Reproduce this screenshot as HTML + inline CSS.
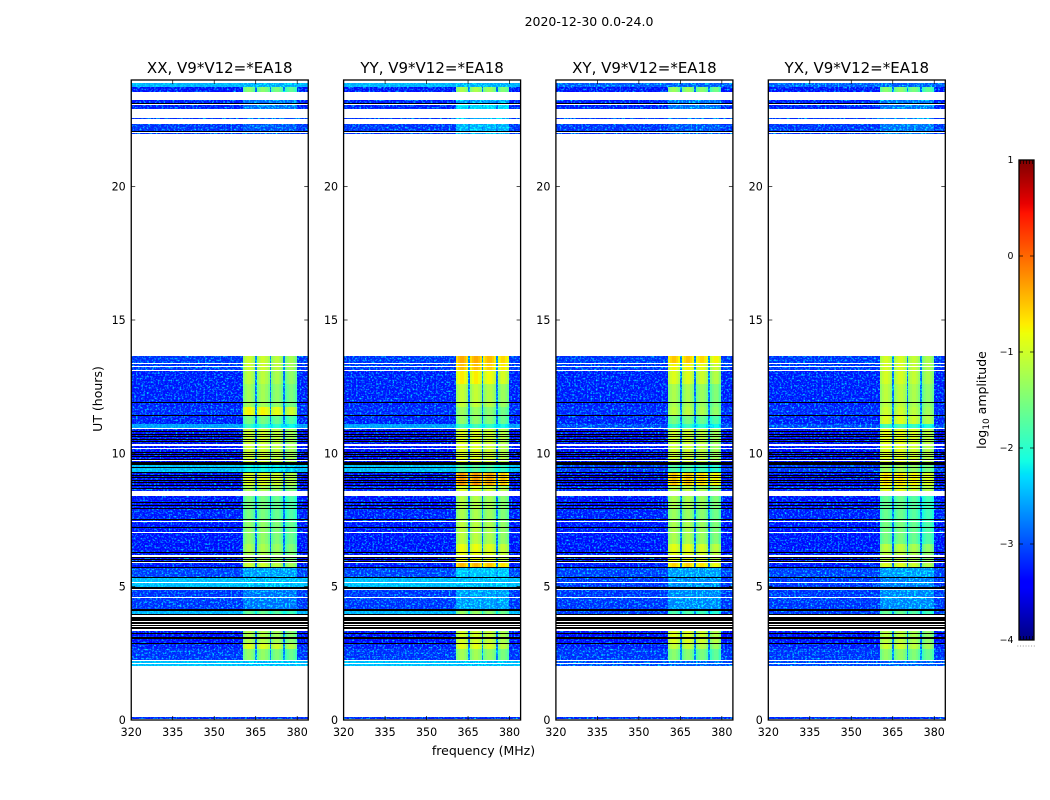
<!DOCTYPE html>
<html lang="en">
<head>
<meta charset="utf-8">
<title>2020-12-30 0.0-24.0</title>
<style>
html,body{margin:0;padding:0;background:#fff;}
#chart{display:block;width:1050px;height:800px;}
text{font-family:"DejaVu Sans","Liberation Sans",sans-serif;fill:#000;}
</style>
</head>
<body>
<svg id="chart" xmlns="http://www.w3.org/2000/svg" width="1050" height="800" viewBox="0 0 1050 800">
  <defs>
    <filter id="speckle" filterUnits="userSpaceOnUse" x="120" y="70" width="840" height="660" color-interpolation-filters="sRGB">
      <feTurbulence type="fractalNoise" baseFrequency="0.55" numOctaves="2" seed="3" result="n"/>
      <feColorMatrix in="n" type="matrix" values="0 0 0 0 0  0 2.4 0 0 -1.15  0 0 0 0 0  0 0 0 0 1" result="m"/>
      <feComposite in="SourceGraphic" in2="m" operator="arithmetic" k1="0" k2="1" k3="1" k4="0" result="sum"/>
      <feComposite in="sum" in2="SourceGraphic" operator="in"/>
    </filter>
    <filter id="speckle-soft" filterUnits="userSpaceOnUse" x="120" y="70" width="840" height="660" color-interpolation-filters="sRGB">
      <feTurbulence type="fractalNoise" baseFrequency="0.55" numOctaves="2" seed="8" result="n"/>
      <feColorMatrix in="n" type="matrix" values="0 0 0 0 0  0 0.8 0 0 -0.3  0 0 0 0 0  0 0 0 0 1" result="m"/>
      <feComposite in="SourceGraphic" in2="m" operator="arithmetic" k1="0" k2="1" k3="1" k4="0" result="sum"/>
      <feComposite in="sum" in2="SourceGraphic" operator="in"/>
    </filter>
  </defs>
  <rect x="0" y="0" width="1050" height="800" fill="#fff"/>
  <text x="589" y="26" font-size="12.5" text-anchor="middle">2020-12-30 0.0-24.0</text>
  <text x="483.5" y="755" font-size="12.5" text-anchor="middle">frequency (MHz)</text>
  <text transform="translate(102 399) rotate(-90)" font-size="12.5" text-anchor="middle">UT (hours)</text>
  <text transform="translate(986 400) rotate(-90)" font-size="12.5" text-anchor="middle">log<tspan font-size="9" dy="3">10</tspan><tspan dy="-3"> amplitude</tspan></text>
  <g id="panels"></g>
  <g id="colorbar"></g>
</svg>
<script>
// ---- chart data ----
const panelTitles = ["XX, V9*V12=*EA18", "YY, V9*V12=*EA18", "XY, V9*V12=*EA18", "YX, V9*V12=*EA18"];
const xTicks = [320, 335, 350, 365, 380];
const yTicks = [0, 5, 10, 15, 20];
const cbTicks = [1, 0, -1, -2, -3, -4];
// frequency edges (MHz) of the four bright sub-bands: start, end
const blockStart = [360.5, 365.6, 370.5, 375.7];
const blockEnd = [364.9, 370.0, 375.0, 379.8];
// relative log-amplitude profile across a sub-band, and per-sub-band offset
const blockShape = [-0.22, -0.05, 0.05, 0.05, -0.05, -0.22];
const blockOffset = [0.05, 0.05, -0.05, -0.2];
// time sections, counted in time bins from 24 h downward
const sectionEnd = [7,12,23,29,54,283,291,304,327,335,344,349,366,385,393,406,411,429,442,464,483,488,498,507,530,535,564,569,580,586,639];
const backgroundParallel = [-2.6,-3.35,-3.3,-3.3,-3.2,-3.2,-3.2,-3.3,-3.3,-3.25,-3.3,-2.7,-3.5,-3.45,-2.55,-3.5,-3.3,-3.35,-3.3,-3.35,-3.35,-3.35,-3.15,-2.55,-3.2,-2.6,-3.4,-3.3,-3.2,-2.55,-3.25];
const backgroundCross = [-3.0,-3.35,-3.3,-3.3,-3.2,-3.2,-3.2,-3.3,-3.3,-3.25,-3.3,-3.1,-3.5,-3.45,-3.2,-3.5,-3.3,-3.35,-3.3,-3.35,-3.35,-3.35,-3.15,-3.2,-3.2,-3.2,-3.4,-3.3,-3.2,-3.1,-3.25];
const levelXX = [-2.6,-1.5,-2.9,-2.9,-3.05,-1.1,-1.1,-1.2,-1.35,-0.85,-1.6,-2.0,-1.1,-1.1,-2.2,-1.0,-1.3,-1.6,-1.6,-1.45,-1.3,-1.1,-2.7,-2.55,-2.9,-1.7,-1.25,-1.0,-1.45,-2.55,-3.25];
const levelYY = [-2.6,-1.3,-2.7,-2.4,-2.6,-0.45,-0.55,-0.8,-1.15,-1.4,-1.45,-1.95,-1.0,-1.0,-1.75,-0.35,-1.0,-1.25,-1.3,-1.2,-0.9,-0.5,-2.5,-2.55,-2.7,-1.4,-1.05,-0.95,-1.35,-2.55,-3.25];
const levelXY = [-3.0,-1.4,-2.9,-2.9,-3.05,-0.6,-0.85,-1.0,-1.3,-1.2,-1.6,-2.0,-1.1,-1.1,-1.8,-0.6,-1.2,-1.3,-1.4,-1.3,-0.95,-0.65,-2.7,-2.8,-2.8,-1.85,-1.0,-1.15,-1.5,-3.0,-3.25];
const levelYX = [-3.0,-1.5,-2.9,-2.9,-2.9,-1.05,-1.05,-1.05,-1.2,-1.1,-1.0,-1.9,-0.95,-1.0,-1.35,-0.75,-1.0,-1.7,-1.7,-1.6,-1.2,-1.0,-2.7,-2.85,-2.8,-1.7,-1.2,-1.1,-1.45,-3.0,-3.25];
// flagged (no data, white) time bins
const blankStart = [0,12,24,29,39,52,54,283,286,290,348,364,368,380,411,441,452,475,482,502,509,517,535,541,544,546,549,580,583,586];
const blankLen = [3,8,1,9,5,1,222,1,1,1,1,2,1,1,5,1,1,2,1,1,1,1,2,1,1,1,2,1,1,51];
// zero-amplitude (black) time bins
const darkStart = [23,51,322,335,351,354,356,359,361,372,374,376,379,382,387,392,395,397,400,402,405,408,422,425,428,439,447,472,477,479,481,487,497,507,529,534,537,542,545,547,553,557,563];
const darkLen = [1,1,1,1,1,1,1,1,1,1,1,1,1,3,1,1,1,1,1,1,1,1,1,1,1,1,1,1,1,1,1,1,1,2,2,1,4,2,1,2,1,2,1];

const panelLevels = [levelXX, levelYY, levelXY, levelYX];
const panelBackgrounds = [backgroundParallel, backgroundParallel, backgroundCross, backgroundCross];

// ---- scales ----
const panelLeft = [131.25, 343.6, 555.9, 768.3];
const panelWidth = 177;
const plotTop = 80, plotBottom = 720;
const fMin = 320, fMax = 384, hMax = 24, binsPerHour = 640 / 24;
const cbLeft = 1019, cbRight = 1034, cbTop = 160, cbBottom = 640, vMin = -4, vMax = 1;

function xScale(i, f) { return panelLeft[i] + (f - fMin) * panelWidth / (fMax - fMin); }
function yScale(h) { return plotBottom - h * (plotBottom - plotTop) / hMax; }
function binToHour(b) { return hMax - (b + 1) / binsPerHour; }
function cbScale(v) { return cbBottom - (v - vMin) * (cbBottom - cbTop) / (vMax - vMin); }

function ramp(t, pts) {
  for (let i = 1; i < pts.length; i++) {
    if (t <= pts[i][0]) {
      const a = pts[i - 1], b = pts[i];
      return a[1] + (b[1] - a[1]) * (t - a[0]) / (b[0] - a[0]);
    }
  }
  return pts[pts.length - 1][1];
}
const jetR = [[0,0],[0.35,0],[0.66,1],[0.89,1],[1,0.5]];
const jetG = [[0,0],[0.125,0],[0.375,1],[0.64,1],[0.91,0],[1,0]];
const jetB = [[0,0.5],[0.11,1],[0.34,1],[0.65,0],[1,0]];
function jet(v) {
  const t = Math.max(0, Math.min(1, (v - vMin) / (vMax - vMin)));
  const c = p => Math.round(255 * ramp(t, p));
  return 'rgb(' + c(jetR) + ',' + c(jetG) + ',' + c(jetB) + ')';
}

const NS = 'http://www.w3.org/2000/svg';
function mk(tag, parent, attrs) {
  const el = document.createElementNS(NS, tag);
  for (const k in attrs) el.setAttribute(k, attrs[k]);
  parent.appendChild(el);
  return el;
}
function rectBetween(parent, x0, x1, y0, y1, fill) {
  const xa = Math.round(x0), xb = Math.round(x1), ya = Math.round(y0), yb = Math.round(y1);
  return mk('rect', parent, { x: xa, y: ya, width: Math.max(xb - xa, 1), height: Math.max(yb - ya, 1), fill: fill, 'shape-rendering': 'crispEdges' });
}

// ---- panels ----
const panelsRoot = document.getElementById('panels');
panelTitles.forEach(function (title, i) {
  const levels = panelLevels[i];
  const backgrounds = panelBackgrounds[i];
  const g = mk('g', panelsRoot, {});
  
  

  const noisy = mk('g', g, { filter: 'url(#speckle)' });
  
  
  const soft = mk('g', g, { filter: 'url(#speckle-soft)' });
  
  
  const smooth = mk('g', g, {});
  
  

  function cell(f0, f1, y0, y1, v, isSignal) {
    let layer;
    if (isSignal) { layer = v < -2.0 ? noisy : smooth; }
    else { layer = v < -2.75 ? noisy : soft; }
    const c = rectBetween(layer, xScale(i, f0), xScale(i, f1), y0, y1, jet(v));
    
    
  }

  let startBin = 0;
  sectionEnd.forEach(function (endBin, s) {
    const y0 = yScale(binToHour(startBin - 1));
    const y1 = yScale(binToHour(endBin - 1));
    const bg = backgrounds[s];
    const sig = levels[s];
    cell(fMin, blockStart[0], y0, y1, bg, false);
    blockStart.forEach(function (fs, b) {
      const fe = blockEnd[b];
      const step = (fe - fs) / blockShape.length;
      blockShape.forEach(function (off, k) {
        const v = sig > -2.3 ? sig + off + blockOffset[b] : sig;
        cell(fs + k * step, fs + (k + 1) * step, y0, y1, v, true);
      });
      const next = b < blockStart.length - 1 ? blockStart[b + 1] : fMax;
      if (b < blockStart.length - 1) { cell(fe, next, y0, y1, Math.min(sig, bg + 0.4), true); }
      else { cell(fe, next, y0, y1, bg, false); }
    });
    startBin = endBin;
  });

  darkStart.forEach(function (b, k) {
    const d = rectBetween(g, xScale(i, fMin), xScale(i, fMax), yScale(binToHour(b - 1)), yScale(binToHour(b + darkLen[k] - 1)), '#000');
    
    
  });
  blankStart.forEach(function (b, k) {
    const d = rectBetween(g, xScale(i, fMin), xScale(i, fMax), yScale(binToHour(b - 1)), yScale(binToHour(b + blankLen[k] - 1)), '#fff');
    
    
  });

  // ticks
  xTicks.forEach(function (f) {
    const x = xScale(i, f);
    const t1 = mk('line', g, { x1: x, x2: x, y1: plotBottom, y2: plotBottom - 4, stroke: '#000', 'stroke-width': 0.7 });
    
    
    const t2 = mk('line', g, { x1: x, x2: x, y1: plotTop, y2: plotTop + 4, stroke: '#000', 'stroke-width': 0.7 });
    
    
    const lab = mk('text', g, { x: x, y: 736, 'font-size': 11.1, 'text-anchor': 'middle' });
    
    
    lab.textContent = String(f);
  });
  yTicks.forEach(function (h) {
    const y = yScale(h);
    const x0 = panelLeft[i], x1 = panelLeft[i] + panelWidth;
    const t1 = mk('line', g, { x1: x0, x2: x0 + 4, y1: y, y2: y, stroke: '#000', 'stroke-width': 0.7 });
    
    
    const t2 = mk('line', g, { x1: x1, x2: x1 - 4, y1: y, y2: y, stroke: '#000', 'stroke-width': 0.7 });
    
    
    const lab = mk('text', g, { x: x0 - 5.5, y: y + 4, 'font-size': 11.1, 'text-anchor': 'end' });
    
    
    lab.textContent = String(h);
  });

  const frame = mk('rect', g, { x: panelLeft[i], y: plotTop, width: panelWidth, height: plotBottom - plotTop, fill: 'none', stroke: '#000', 'stroke-width': 1.3 });
  
  

  const tt = mk('text', g, { x: panelLeft[i] + panelWidth / 2, y: 73, 'font-size': 15, 'text-anchor': 'middle' });
  
  
  tt.textContent = title;
});

// ---- colorbar ----
const cbRoot = document.getElementById('colorbar');
const cbSteps = 240;
for (let k = 0; k < cbSteps; k++) {
  const v0 = vMin + (vMax - vMin) * k / cbSteps;
  const v1 = vMin + (vMax - vMin) * (k + 1) / cbSteps;
  const r = mk('rect', cbRoot, { x: cbLeft, y: cbScale(v1), width: cbRight - cbLeft, height: cbScale(v0) - cbScale(v1) + 0.5, fill: jet((v0 + v1) / 2) });
  
  
}
cbTicks.forEach(function (v) {
  const y = cbScale(v);
  if (v !== 1 && v !== -4) {
    const a = mk('line', cbRoot, { x1: cbLeft, x2: cbLeft + 4, y1: y, y2: y, stroke: '#000', 'stroke-width': 0.7 });
    
    
    const b = mk('line', cbRoot, { x1: cbRight, x2: cbRight - 4, y1: y, y2: y, stroke: '#000', 'stroke-width': 0.7 });
    
    
  }
  const lab = mk('text', cbRoot, { x: 1013.5, y: y + 3.2, 'font-size': 9.4, 'text-anchor': 'end' });
  
  
  lab.textContent = v < 0 ? '\u2212' + Math.abs(v) : String(v);
});
for (let k = 0; k < 5; k++) {
  const x = cbLeft + (cbRight - cbLeft) * (k + 0.5) / 5;
  const a = mk('line', cbRoot, { x1: x, x2: x, y1: cbTop, y2: cbTop + 4, stroke: '#000', 'stroke-width': 0.7 });
  
  
  const b = mk('line', cbRoot, { x1: x, x2: x, y1: cbBottom, y2: cbBottom - 4, stroke: '#000', 'stroke-width': 0.7 });
  
  
}
const cbFrame = mk('rect', cbRoot, { x: cbLeft, y: cbTop, width: cbRight - cbLeft, height: cbBottom - cbTop, fill: 'none', stroke: '#000', 'stroke-width': 1.3 });


for (let k = 0; k < 7; k++) {
  const d = mk('rect', cbRoot, { x: 1017.3 + k * 2.75, y: 645.5, width: 1, height: 1, fill: '#999' });
  
  
}
</script>
</body>
</html>
